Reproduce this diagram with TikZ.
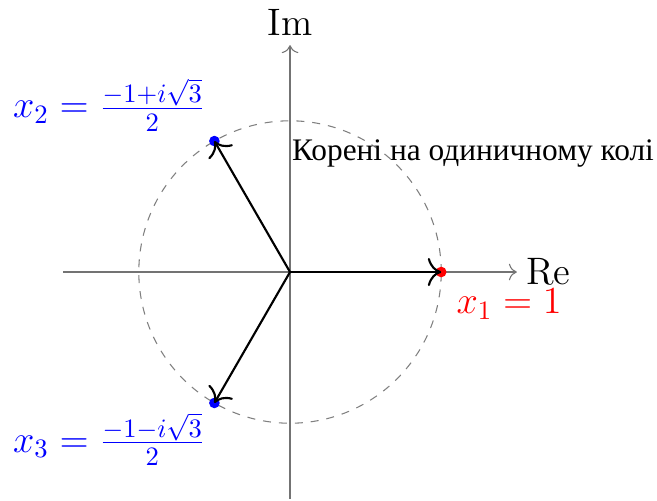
\documentclass[tikz,border=0pt]{standalone}
\usepackage{fontspec}
\usetikzlibrary{arrows.meta}
\newfontfamily\cyrfont{Liberation Serif}
\begin{document}
\begin{tikzpicture}[
  axis/.style={-{To[scale=1.2]}, gray!90!black},
  root/.style={-{To[scale=1.5]}, thick, black},
  dotp/.style={circle, fill, inner sep=0pt, minimum size=4pt},
  lbl/.style={font=\Large}
]
\useasboundingbox (-3.836,-3.016) rectangle (4.854,3.598);
\coordinate (O) at (0,0);
\coordinate (xl) at (-3,0);
\coordinate (xr) at (3,0);
\coordinate (yb) at (0,-3);
\coordinate (yt) at (0,3);
\draw[axis] (xl) -- (xr);
\draw[axis] (yb) -- (yt);
\node[lbl, right, black] (re) at (xr) {Re};
\node[lbl, above, black] (im) at (yt) {Im};
\draw[dashed, gray] (O) circle (2);
\node[dotp, red] (p1) at (2,0) {};
\node[dotp, blue] (p2) at (-1,1.732) {};
\node[dotp, blue] (p3) at (-1,-1.732) {};
\draw[root] (O) -- (p1.center);
\draw[root] (O) -- (p2.center);
\draw[root] (O) -- (p3.center);
\node[lbl, red, anchor=north west] (l1) at (2.08,-0.1) {$x_1 = 1$};
\node[lbl, blue, anchor=south east] (l2) at (-1,1.74) {$x_2 = \frac{-1+i\sqrt{3}}{2}$};
\node[lbl, blue, anchor=north east] (l3) at (-1,-1.74) {$x_3 = \frac{-1-i\sqrt{3}}{2}$};
\node[anchor=west, inner sep=0pt, font=\cyrfont\fontsize{11.8}{13}\selectfont] (t) at (0.02,1.57) {Корені на одиничному колі};
\end{tikzpicture}
\end{document}
